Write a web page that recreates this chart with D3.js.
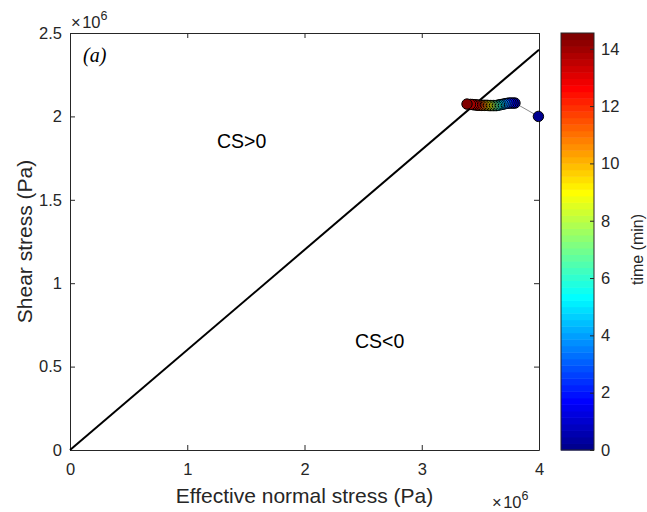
<!DOCTYPE html>
<html>
<head>
<meta charset="utf-8">
<script src="https://cdn.jsdelivr.net/npm/d3@7"></script>
<style>
body { margin: 0; background: #fff; }
text { font-family: Arial, "Liberation Sans", sans-serif; }
</style>
</head>
<body>
<div id="chart"></div>
<script>
// time of each sample (min)
var timeMin = [0, 0.5, 1, 1.5, 2, 2.5, 3, 3.5, 4, 4.5, 5, 5.5, 6, 6.5, 7, 7.5,
               8, 8.5, 9, 9.5, 10, 10.5, 11, 11.5, 12, 12.5, 13, 13.5, 14, 14.55];
// effective normal stress (Pa)
var normalStress = [3.995e6, 3.795e6, 3.778e6, 3.761e6, 3.744e6, 3.727e6, 3.710e6, 3.693e6,
                    3.676e6, 3.663e6, 3.650e6, 3.638e6, 3.625e6, 3.612e6, 3.599e6, 3.586e6,
                    3.574e6, 3.561e6, 3.548e6, 3.535e6, 3.522e6, 3.510e6, 3.497e6, 3.484e6,
                    3.471e6, 3.459e6, 3.446e6, 3.433e6, 3.416e6, 3.386e6];
// shear stress (Pa)
var shearStress = [2.000e6, 2.080e6, 2.080e6, 2.080e6, 2.080e6, 2.078e6, 2.076e6, 2.073e6,
                   2.071e6, 2.069e6, 2.067e6, 2.065e6, 2.065e6, 2.065e6, 2.065e6, 2.065e6,
                   2.065e6, 2.066e6, 2.066e6, 2.066e6, 2.066e6, 2.066e6, 2.066e6, 2.067e6,
                   2.068e6, 2.069e6, 2.070e6, 2.071e6, 2.072e6, 2.074e6];
// Coulomb line (CS = 0)
var csLineX = [0, 4e6];
var csLineY = [0, 2.4e6];

var xTicks = [0, 1e6, 2e6, 3e6, 4e6];
var yTicks = [0, 0.5e6, 1e6, 1.5e6, 2e6, 2.5e6];
var cbTicks = [0, 2, 4, 6, 8, 10, 12, 14];

var cfg = {
    width: 647,
    height: 512,
    plot: {left: 70, right: 539, top: 33, bottom: 450},
    cbar: {left: 561, right: 594},
    ink: "#262626"
};

// MATLAB jet(64)
function jetMap(m) {
    var n = Math.ceil(m / 4);
    var u = [];
    for (var i = 1; i <= n; i++) u.push(i / n);
    for (var i = 0; i < n - 1; i++) u.push(1);
    for (var i = n; i >= 1; i--) u.push(i / n);
    var off = Math.ceil(n / 2) - (m % 4 == 1 ? 1 : 0);
    var J = [];
    for (var i = 0; i < m; i++) J.push([0, 0, 0]);
    var g = [], r = [], b = [];
    for (var k = 1; k <= u.length; k++) {
        var gi = off + k;
        if (gi <= m) g.push(gi);
        if (gi + n <= m) r.push(gi + n);
        if (gi - n >= 1) b.push(gi - n);
    }
    r.forEach(function(idx, k) { J[idx - 1][0] = u[k]; });
    g.forEach(function(idx, k) { J[idx - 1][1] = u[k]; });
    b.forEach(function(idx, k) { J[idx - 1][2] = u[u.length - b.length + k]; });
    return J.map(function(c) {
        return d3.rgb(c[0] * 255, c[1] * 255, c[2] * 255).formatHex();
    });
}
var jet = jetMap(64);
var cMin = d3.min(timeMin), cMax = d3.max(timeMin);
function timeColor(t) {
    var idx = Math.floor((t - cMin) / (cMax - cMin) * 64);
    return jet[Math.max(0, Math.min(63, idx))];
}

var svg = d3.select("#chart").append("svg")
    .attr("width", cfg.width)
    .attr("height", cfg.height);

var x = d3.scaleLinear().domain([0, 4e6]).range([cfg.plot.left, cfg.plot.right]);
var y = d3.scaleLinear().domain([0, 2.5e6]).range([cfg.plot.bottom, cfg.plot.top]);
var fmt = function(d) { return d3.format("~g")(d / 1e6); };

// axes (inward ticks, mirrored on top/right)
var gx = svg.append("g")
    .attr("transform", "translate(0," + cfg.plot.bottom + ")")
    .call(d3.axisBottom(x).tickValues(xTicks).tickFormat(fmt)
        .tickSizeInner(-5).tickSizeOuter(0).tickPadding(13));
var gy = svg.append("g")
    .attr("transform", "translate(" + cfg.plot.left + ",0)")
    .call(d3.axisLeft(y).tickValues(yTicks).tickFormat(fmt)
        .tickSizeInner(-5).tickSizeOuter(0).tickPadding(8));
var gxt = svg.append("g")
    .attr("transform", "translate(0," + cfg.plot.top + ")")
    .call(d3.axisTop(x).tickValues(xTicks).tickFormat("")
        .tickSizeInner(-5).tickSizeOuter(0));
var gyr = svg.append("g")
    .attr("transform", "translate(" + cfg.plot.right + ",0)")
    .call(d3.axisRight(y).tickValues(yTicks).tickFormat("")
        .tickSizeInner(-5).tickSizeOuter(0));

[gx, gy, gxt, gyr].forEach(function(g) {
    g.selectAll("path, line").attr("stroke", cfg.ink);
    g.selectAll("text").attr("fill", cfg.ink).style("font-size", "16.5px");
});

// CS = 0 line
svg.append("line")
    .attr("x1", x(csLineX[0])).attr("y1", y(csLineY[0]))
    .attr("x2", x(csLineX[1])).attr("y2", y(csLineY[1]))
    .attr("stroke", "#000")
    .attr("stroke-width", 2);

// stress path
var pts = timeMin.map(function(t, i) {
    return {t: t, sn: normalStress[i], tau: shearStress[i]};
});
svg.append("path")
    .datum(pts)
    .attr("fill", "none")
    .attr("stroke", "#8c8c8c")
    .attr("stroke-width", 1)
    .attr("d", d3.line().x(function(d) { return x(d.sn); }).y(function(d) { return y(d.tau); }));

svg.selectAll(".pt")
    .data(pts)
    .enter().append("circle")
    .attr("class", "pt")
    .attr("cx", function(d) { return x(d.sn); })
    .attr("cy", function(d) { return y(d.tau); })
    .attr("r", 5.2)
    .attr("fill", function(d) { return timeColor(d.t); })
    .attr("stroke", "#000")
    .attr("stroke-width", 1);

// annotations
svg.append("text")
    .attr("x", 217).attr("y", 148)
    .style("font-size", "19.5px")
    .text("CS>0");
svg.append("text")
    .attr("x", 355).attr("y", 348)
    .style("font-size", "19.5px")
    .text("CS<0");
svg.append("text")
    .attr("x", 83).attr("y", 62)
    .style("font-family", "'Liberation Serif', 'Times New Roman', serif")
    .style("font-style", "italic")
    .style("font-size", "20px")
    .text("(a)");

// exponent labels
function exponent(xPos, yPos) {
    var t = svg.append("text")
        .attr("x", xPos).attr("y", yPos)
        .attr("fill", cfg.ink)
        .style("font-size", "16.5px");
    t.append("tspan").text("\u00d7");
    t.append("tspan").attr("dx", 1.5).text("10");
    t.append("tspan").attr("dy", -8).style("font-size", "12.5px").text("6");
}
exponent(71, 28);
exponent(492, 508);

// axis titles
svg.append("text")
    .attr("x", (cfg.plot.left + cfg.plot.right) / 2)
    .attr("y", 503)
    .attr("text-anchor", "middle")
    .attr("fill", cfg.ink)
    .style("font-size", "21px")
    .text("Effective normal stress (Pa)");
svg.append("text")
    .attr("transform", "translate(32," + ((cfg.plot.top + cfg.plot.bottom) / 2) + ") rotate(-90)")
    .attr("text-anchor", "middle")
    .attr("fill", cfg.ink)
    .style("font-size", "21px")
    .text("Shear stress (Pa)");

// colorbar
var cy = d3.scaleLinear().domain([cMin, cMax]).range([cfg.plot.bottom, cfg.plot.top]);
var bands = d3.range(64);
svg.selectAll(".cb")
    .data(bands)
    .enter().append("rect")
    .attr("class", "cb")
    .attr("x", cfg.cbar.left)
    .attr("width", cfg.cbar.right - cfg.cbar.left)
    .attr("y", function(i) { return cy(cMin + (i + 1) * (cMax - cMin) / 64); })
    .attr("height", function(i) { return cy(cMin + i * (cMax - cMin) / 64) - cy(cMin + (i + 1) * (cMax - cMin) / 64) + 0.5; })
    .attr("fill", function(i) { return jet[i]; });
svg.append("rect")
    .attr("x", cfg.cbar.left).attr("y", cfg.plot.top)
    .attr("width", cfg.cbar.right - cfg.cbar.left)
    .attr("height", cfg.plot.bottom - cfg.plot.top)
    .attr("fill", "none")
    .attr("stroke", cfg.ink);
var gc = svg.append("g")
    .attr("transform", "translate(" + cfg.cbar.right + ",0)")
    .call(d3.axisRight(cy).tickValues(cbTicks)
        .tickSizeInner(-4).tickSizeOuter(0).tickPadding(7));
gc.select(".domain").remove();
gc.selectAll("line").attr("stroke", cfg.ink);
gc.selectAll("text").attr("fill", cfg.ink).style("font-size", "16.5px");

svg.append("text")
    .attr("transform", "translate(643," + ((cfg.plot.top + cfg.plot.bottom) / 2 + 8) + ") rotate(-90)")
    .attr("text-anchor", "middle")
    .attr("fill", cfg.ink)
    .style("font-size", "16px")
    .text("time (min)");
</script>
</body>
</html>
